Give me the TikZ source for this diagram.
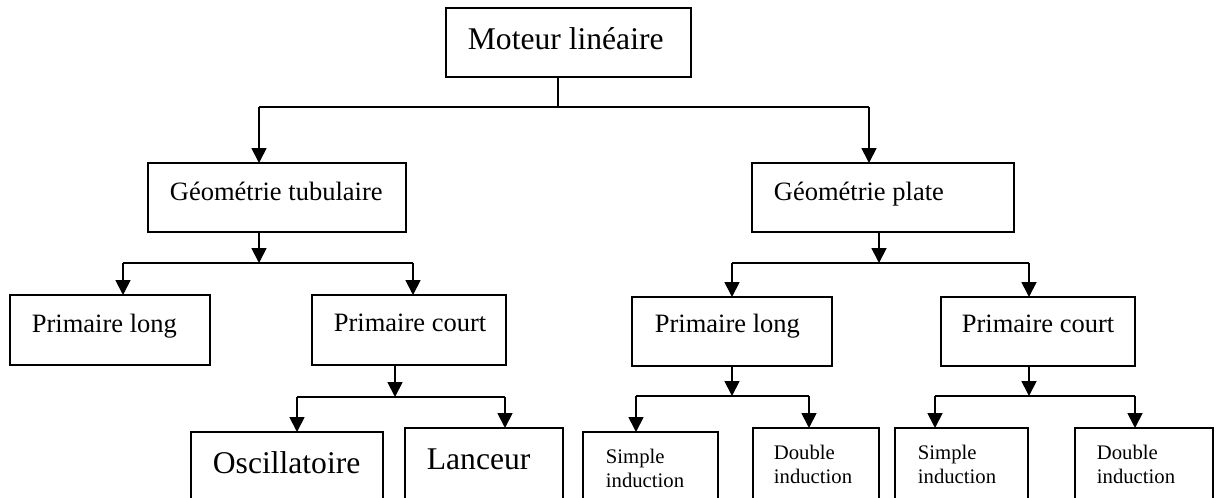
\documentclass[tikz,border=0pt]{standalone}
\usepackage{fontspec}
\setmainfont{Liberation Serif}
\usepackage{tikz}
\usetikzlibrary{arrows.meta}
\tikzstyle{boite}=[draw, rectangle, line width=0.9pt, inner sep=0pt, outer sep=0pt, anchor=north west]
\tikzstyle{txt}=[inner sep=0pt, anchor=base west]
\tikzstyle{grand}=[txt, font=\fontsize{15.8}{18}\selectfont]
\tikzstyle{moyen}=[txt, font=\fontsize{13.25}{15}\selectfont]
\tikzstyle{petit}=[txt, font=\fontsize{10.35}{12}\selectfont]
\tikzstyle{fleche}=[-{Triangle[width=7.5pt,length=7.5pt]}]

\begin{document}
\begin{tikzpicture}[x=0.5pt, y=-0.5pt, line width=0.9pt]

    \useasboundingbox (0,0) rectangle (1216,498);
    \clip (0,0) rectangle (1216,498);

    % the boxes, top left corner at each coordinate
    \node[boite, minimum width=122.5pt, minimum height=34.5pt] (mot) at (446,8) {};
    \node[boite, minimum width=129pt, minimum height=34.5pt] (gt) at (148,163) {};
    \node[boite, minimum width=131pt, minimum height=34.5pt] (gp) at (752,163) {};
    \node[boite, minimum width=100pt, minimum height=35pt] (plL) at (10,295) {};
    \node[boite, minimum width=97pt, minimum height=35pt] (pcL) at (312,295) {};
    \node[boite, minimum width=100pt, minimum height=34.5pt] (plR) at (632,297) {};
    \node[boite, minimum width=97pt, minimum height=34.5pt] (pcR) at (941,297) {};
    \node[boite, minimum width=96pt, minimum height=40pt] (osc) at (191,432) {};
    \node[boite, minimum width=79pt, minimum height=42pt] (lan) at (405,428) {};
    \node[boite, minimum width=67.5pt, minimum height=40pt] (si1) at (583,432) {};
    \node[boite, minimum width=63pt, minimum height=42pt] (di1) at (753,428) {};
    \node[boite, minimum width=66.5pt, minimum height=42pt] (si2) at (895,428) {};
    \node[boite, minimum width=69pt, minimum height=42pt] (di2) at (1075,428) {};

    % the texts
    \node[grand] (mot-t) at (467,49) {Moteur linéaire};
    \node[moyen] (gt-t) at (169,200) {Géométrie tubulaire};
    \node[moyen] (gp-t) at (773,200) {Géométrie plate};
    \node[moyen] (plL-t) at (31,332) {Primaire long};
    \node[moyen] (pcL-t) at (333,331) {Primaire court};
    \node[moyen] (plR-t) at (654,332) {Primaire long};
    \node[moyen] (pcR-t) at (961,332) {Primaire court};
    \node[grand] (osc-t) at (212,473) {Oscillatoire};
    \node[grand] (lan-t) at (426,469) {Lanceur};
    \node[petit] (si1-t) at (605,463) {\begin{tabular}[t]{@{}l@{}}Simple\\induction\end{tabular}};
    \node[petit] (di1-t) at (773,459) {\begin{tabular}[t]{@{}l@{}}Double\\induction\end{tabular}};
    \node[petit] (si2-t) at (917,459) {\begin{tabular}[t]{@{}l@{}}Simple\\induction\end{tabular}};
    \node[petit] (di2-t) at (1096,459) {\begin{tabular}[t]{@{}l@{}}Double\\induction\end{tabular}};

    % branches: parent, stem x, bar y, bar ends, children, stem style
    \foreach \pere/\xt/\yb/\xg/\xd/\fg/\fd/\st in {
        mot/558/107/259/869/gt/gp/-,
        gt/259/263/123/413/plL/pcL/fleche,
        gp/879/263/732/1029/plR/pcR/fleche,
        pcL/395/397/297/505/osc/lan/fleche,
        plR/732/396/636/809/si1/di1/fleche,
        pcR/1029/396/935/1135/si2/di2/fleche}
    {
        \coordinate (tige) at (\xt,\yb);
        \coordinate (barg) at (\xg,\yb);
        \coordinate (bard) at (\xd,\yb);
        \draw[\st] (\pere.south -| tige) -- (tige);
        \draw (barg) -- (bard);
        \draw[fleche] (barg) -- (\fg.north -| barg);
        \draw[fleche] (bard) -- (\fd.north -| bard);
    }
  \end{tikzpicture}
\end{document}
